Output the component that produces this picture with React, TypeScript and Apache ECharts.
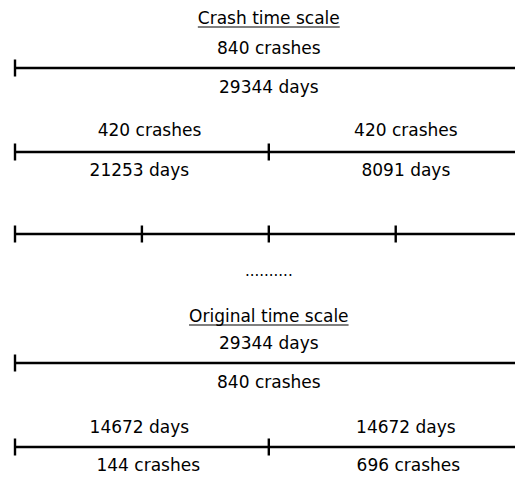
import React, { useEffect, useRef } from "react";
import * as echarts from "echarts";

// ---- data ----
const totalCrashes = 840;
const totalDays = 29344;
const crashScaleHalfCrashes = [420, 420];
const crashScaleHalfDays = [21253, 8091];
const originalHalfDays = [14672, 14672];
const originalHalfCrashes = [144, 696];
const titles = ["Crash time scale", "Original time scale"];
const dots = "..........";

// ---- layout (domain: x in quarters 0..4, y in pixels) ----
const FONT = "'DejaVu Sans', sans-serif";
const FS = 17;
const rows = [
  { y: 68, ticks: [0] },
  { y: 152, ticks: [0, 2] },
  { y: 234, ticks: [0, 1, 2, 3] },
  { y: 363, ticks: [0] },
  { y: 447, ticks: [0, 2] },
];
const LEFT_X = 1.0;
const RIGHT_X = 3.08;
const MID_X = 2;

type Label = { x: number; y: number; text: string; underline?: boolean; size?: number };
const labels: Label[] = [
  { x: MID_X, y: 18, text: titles[0], underline: true },
  { x: MID_X, y: 48, text: `${totalCrashes} crashes` },
  { x: MID_X, y: 87, text: `${totalDays} days` },
  { x: LEFT_X + 0.06, y: 130, text: `${crashScaleHalfCrashes[0]} crashes` },
  { x: RIGHT_X, y: 130, text: `${crashScaleHalfCrashes[1]} crashes` },
  { x: LEFT_X - 0.02, y: 170, text: `${crashScaleHalfDays[0]} days` },
  { x: RIGHT_X, y: 170, text: `${crashScaleHalfDays[1]} days` },
  { x: MID_X, y: 271, text: dots, size: 15 },
  { x: MID_X, y: 316, text: titles[1], underline: true },
  { x: MID_X, y: 343, text: `${totalDays} days` },
  { x: MID_X, y: 382, text: `${totalCrashes} crashes` },
  { x: LEFT_X - 0.02, y: 427, text: `${originalHalfDays[0]} days` },
  { x: RIGHT_X, y: 427, text: `${originalHalfDays[1]} days` },
  { x: LEFT_X + 0.05, y: 465, text: `${originalHalfCrashes[0]} crashes` },
  { x: RIGHT_X + 0.02, y: 465, text: `${originalHalfCrashes[1]} crashes` },
];

function measure(text: string, size: number) {
  const c = document.createElement("canvas").getContext("2d");
  if (!c) return text.length * size * 0.5;
  c.font = `${size}px ${FONT}`;
  return c.measureText(text).width;
}

export default function App() {
  const ref = useRef<HTMLDivElement>(null);
  useEffect(() => {
    if (!ref.current) return;
    document.body.style.margin = "0";
    const chart = echarts.init(ref.current, undefined, { renderer: "svg" });
    chart.setOption({
      animation: false,
      backgroundColor: "#ffffff",
      grid: { left: 15, right: 0, top: 0, bottom: 0 },
      xAxis: { type: "value", min: 0, max: 3.94, show: false },
      yAxis: { type: "value", min: 0, max: 482, inverse: true, show: false },
      series: [
        {
          type: "custom",
          clip: false,
          data: rows.map((r, i) => [0, r.y, i]),
          renderItem: (params: any, api: any) => {
            const row = rows[params.dataIndex];
            const p0 = api.coord([0, row.y]);
            const p1 = api.coord([4, row.y]);
            const children: any[] = [
              {
                type: "line",
                shape: { x1: p0[0], y1: p0[1], x2: p1[0], y2: p1[1] },
                style: { stroke: "#000", lineWidth: 2.6 },
              },
            ];
            row.ticks.forEach((t) => {
              const p = api.coord([t, row.y]);
              children.push({
                type: "line",
                shape: { x1: p[0], y1: p[1] - 8.5, x2: p[0], y2: p[1] + 8.5 },
                style: { stroke: "#000", lineWidth: 2.4 },
              });
            });
            return { type: "group", children };
          },
        },
        {
          type: "custom",
          clip: false,
          data: labels.map((l, i) => [l.x, l.y, i]),
          renderItem: (params: any, api: any) => {
            const l = labels[params.dataIndex];
            const p = api.coord([l.x, l.y]);
            const size = l.size || FS;
            const children: any[] = [
              {
                type: "text",
                x: p[0],
                y: p[1],
                style: {
                  text: l.text,
                  fill: "#000",
                  font: `${size}px ${FONT}`,
                  align: "center",
                  verticalAlign: "middle",
                },
              },
            ];
            if (l.underline) {
              const w = measure(l.text, size);
              children.push({
                type: "line",
                shape: { x1: p[0] - w / 2, y1: p[1] + 9, x2: p[0] + w / 2, y2: p[1] + 9 },
                style: { stroke: "#000", lineWidth: 1.2 },
              });
            }
            return { type: "group", children };
          },
        },
      ],
    });
    return () => chart.dispose();
  }, []);
  return (
    <div
      ref={ref}
      style={{ position: "absolute", left: 0, top: 0, width: 515, height: 482 }}
    />
  );
}
